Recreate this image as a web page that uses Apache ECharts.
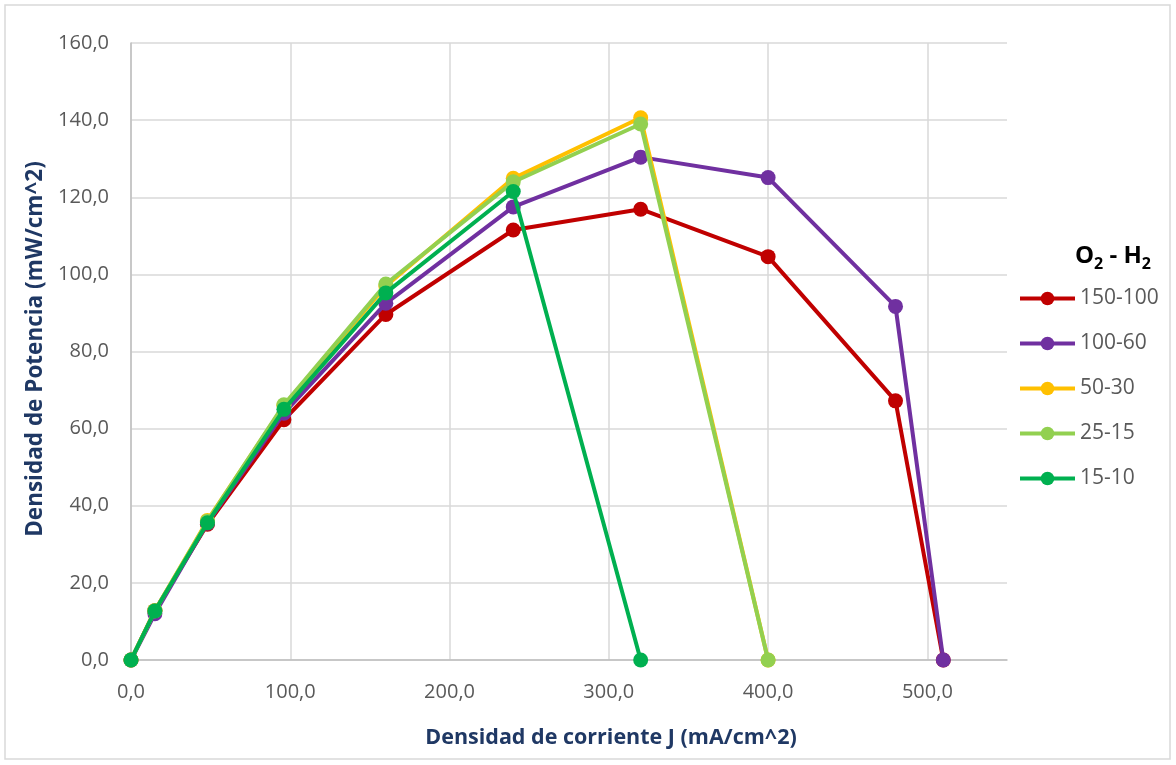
<!DOCTYPE html>
<html><head><meta charset="utf-8">
<script src="https://cdn.jsdelivr.net/npm/echarts@6/dist/echarts.min.js"></script>
<style>html,body{margin:0;padding:0;background:#fff}#c{width:1176px;height:765px}</style>
</head><body><div id="c"></div>
<script>
const xValues = [0, 15, 48, 96, 160, 240, 320, 400, 480, 510];
const seriesNames = ['150-100', '100-60', '50-30', '25-15', '15-10'];
const s150_100 = [0, 12.8, 35.2, 62.3, 89.6, 111.5, 116.9, 104.6, 67.2, 0];
const s100_60  = [0, 12.0, 35.5, 64.0, 92.5, 117.5, 130.4, 125.1, 91.7, 0];
const s50_30   = [0, 12.8, 36.2, 66.0, 97.0, 124.9, 140.6, 0];
const s25_15   = [0, 12.8, 36.0, 66.2, 97.5, 124.0, 139.0, 0];
const s15_10   = [0, 12.7, 35.6, 65.0, 95.2, 121.5, 0];
const colors = ['#C00000', '#7030A0', '#FFC000', '#92D050', '#00B050'];
const xTicks = [0, 100, 200, 300, 400, 500];

const allData = [s150_100, s100_60, s50_30, s25_15, s15_10];
const fmt = v => v.toFixed(1).replace('.', ',');
const font = '"Open Sans", "Noto Sans", sans-serif';

const chart = echarts.init(document.getElementById('c'), null, {renderer: 'canvas'});
chart.setOption({
  animation: false,
  backgroundColor: '#fff',
  color: colors,
  grid: {left: 131, right: 169, top: 43, bottom: 105},
  xAxis: {
    type: 'value', min: 0, max: 550, interval: 100,
    axisLine: {show: true, lineStyle: {color: '#BFBFBF', width: 1.5}},
    axisTick: {show: false},
    splitLine: {show: true, showMaxLine: false, lineStyle: {color: '#D9D9D9', width: 1.5}},
    axisLabel: {color: '#595959', fontSize: 20, fontFamily: font, margin: 22,
      showMaxLabel: false,
      formatter: v => xTicks.includes(v) ? fmt(v) : ''}
  },
  yAxis: {
    type: 'value', min: 0, max: 160, interval: 20,
    axisLine: {show: true, lineStyle: {color: '#BFBFBF', width: 1.5}},
    axisTick: {show: false},
    splitLine: {show: true, lineStyle: {color: '#D9D9D9', width: 1.5}},
    axisLabel: {color: '#595959', fontSize: 20, fontFamily: font, margin: 22, formatter: fmt}
  },
  legend: {
    orient: 'vertical', left: 1013, top: 283, itemWidth: 55, itemHeight: 17, itemGap: 24,
    lineStyle: {width: 4},
    textStyle: {color: '#595959', fontSize: 21, fontFamily: font},
    data: seriesNames
  },
  graphic: [
    {type: 'rect', shape: {x: 5, y: 5, width: 1165, height: 754}, style: {fill: 'none', stroke: '#D9D9D9', lineWidth: 1.5}, silent: true},
    {type: 'text', left: 1075, top: 244, style: {
      rich: {
        b: {fontSize: 24, fontWeight: 'bold', fill: '#000', fontFamily: font},
        s: {fontSize: 16, fontWeight: 'bold', fill: '#000', fontFamily: font, padding: [16, 0, 0, 0]}
      },
      text: '{b|O}{s|2}{b| - H}{s|2}'
    }},
    {type: 'text', x: 611, y: 738, style: {text: 'Densidad de corriente J (mA/cm^2)', fill: '#1F3864', fontSize: 21.5, fontWeight: 'bold', fontFamily: font, align: 'center', verticalAlign: 'middle'}},
    {type: 'text', x: 36, y: 349, rotation: Math.PI / 2, style: {text: 'Densidad de Potencia (mW/cm^2)', fill: '#1F3864', fontSize: 22.5, fontWeight: 'bold', fontFamily: font, align: 'center', verticalAlign: 'middle'}}
  ],
  series: seriesNames.map((n, i) => ({
    name: n, type: 'line', symbol: 'circle', symbolSize: 15,
    lineStyle: {width: 4, color: colors[i]},
    itemStyle: {color: colors[i]},
    data: allData[i].map((y, k) => [xValues[k], y]),
    z: 2 + i
  }))
});
</script></body></html>
